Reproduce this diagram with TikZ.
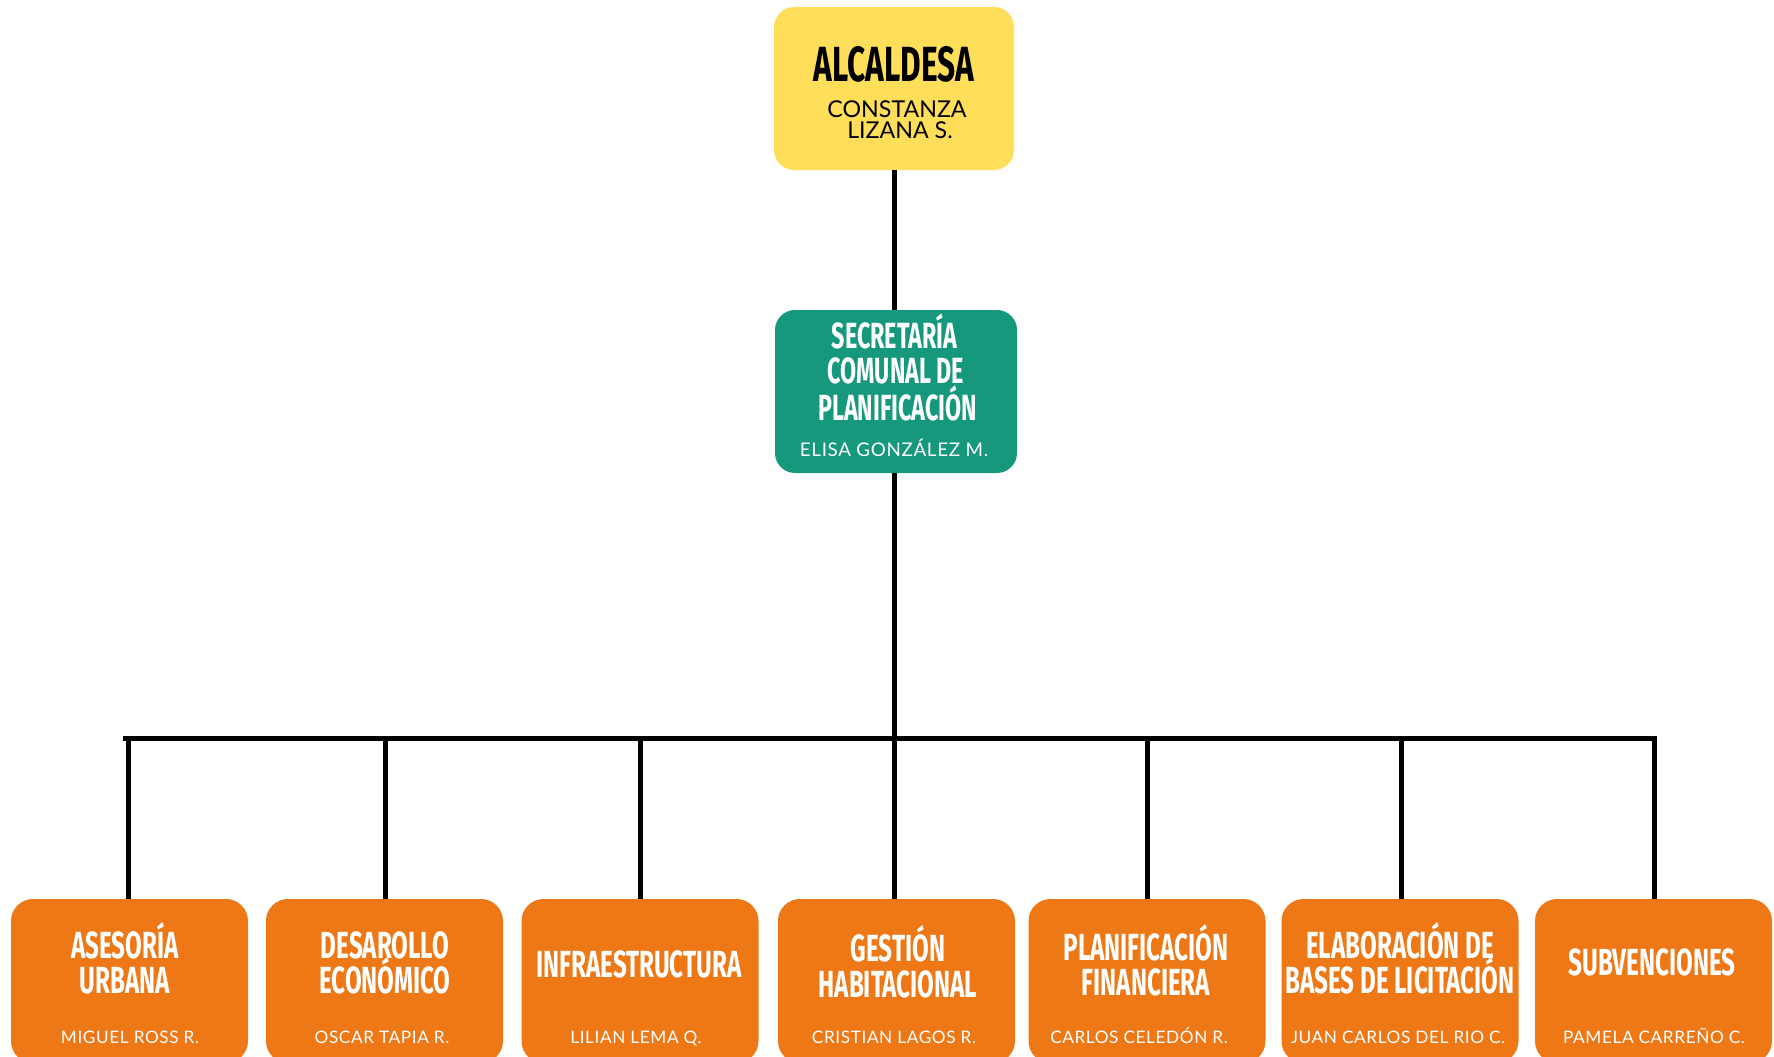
\documentclass[tikz,border=0pt]{standalone}
\usepackage{fontspec}
\newfontfamily\headfont[FakeStretch=0.64]{Fira Sans}
\newfontfamily\namefont[LetterSpace=3.5]{Lato}
\newfontfamily\topnamefont{Lato}
\definecolor{cyellow}{HTML}{FFDE59}
\definecolor{cgreen}{HTML}{16987C}
\definecolor{corange}{HTML}{EE7816}
\tikzset{
  box/.style={rounded corners=11pt, inner sep=0, minimum width=118.5pt},
  head/.style={font=\headfont\bfseries\fontsize{18.9}{18}\selectfont, text=white, inner sep=0, anchor=base},
  shead/.style={font=\headfont\bfseries\fontsize{18.2}{17}\selectfont, text=white, inner sep=0, anchor=base},
  thead/.style={font=\headfont\bfseries\fontsize{24.7}{24}\selectfont, text=black, inner sep=0, anchor=base},
  pname/.style={font=\namefont\fontsize{8.6}{10}\selectfont, text=white, inner sep=0, anchor=base},
  tname/.style={font=\topnamefont\fontsize{11.6}{10}\selectfont, text=black, inner sep=0, anchor=base, text height=8.5pt, text depth=0pt},
  link/.style={line width=2.5pt, black},
}
\begin{document}
\begin{tikzpicture}[x=0.5pt,y=-0.5pt]
\useasboundingbox (0,0) rectangle (1774,1056);
\clip (0,0) rectangle (1774,1056);
% top box
\node[box, fill=cyellow, minimum width=120pt, minimum height=81.5pt, rounded corners=10pt] (top) at (894,88.5) {};
\node[thead] (topt) at (894,81) {ALCALDESA};
\node[tname] (topn1) at (897,117) {CONSTANZA};
\node[tname] (topn2) at (900,138) {LIZANA S.};
% secretaria
\node[box, fill=cgreen, minimum width=121pt, minimum height=81.5pt, rounded corners=10pt] (sec) at (896,391.5) {};
\node[shead] (sect1) at (894.5,348) {SECRETARÍA};
\node[shead] (sect2) at (896,383) {COMUNAL DE};
\node[shead] (sect3) at (897.5,420) {PLANIFICACIÓN};
\node[pname, font=\namefont\fontsize{9.4}{10}\selectfont] (secn) at (894,456) {ELISA GONZÁLEZ M.};
% bottom boxes
\node[box, fill=corange, minimum height=82pt] (b1) at (129.5,981) {};
\node[box, fill=corange, minimum height=82pt] (b2) at (384.5,981) {};
\node[box, fill=corange, minimum height=82pt] (b3) at (640,981) {};
\node[box, fill=corange, minimum height=82pt] (b4) at (896.5,981) {};
\node[box, fill=corange, minimum height=82pt] (b5) at (1147,981) {};
\node[box, fill=corange, minimum height=82pt] (b6) at (1400,981) {};
\node[box, fill=corange, minimum height=82pt] (b7) at (1653.5,981) {};
% titles
\node[head] (b1t1) at (125,958) {ASESORÍA};
\node[head] (b1t2) at (125,993) {URBANA};
\node[head] (b2t1) at (385,958) {DESAROLLO};
\node[head] (b2t2) at (385,993) {ECONÓMICO};
\node[head] (b3t1) at (639,977) {INFRAESTRUCTURA};
\node[head] (b4t1) at (898,961) {GESTIÓN};
\node[head] (b4t2) at (898,997) {HABITACIONAL};
\node[head] (b5t1) at (1146,960) {PLANIFICACIÓN};
\node[head] (b5t2) at (1146,995) {FINANCIERA};
\node[head] (b6t1) at (1400,958) {ELABORACIÓN DE};
\node[head] (b6t2) at (1400,993) {BASES DE LICITACIÓN};
\node[head] (b7t1) at (1652,975) {SUBVENCIONES};
% names
\node[pname] (b1n) at (130,1043) {MIGUEL ROSS R.};
\node[pname] (b2n) at (382,1043) {OSCAR TAPIA R.};
\node[pname] (b3n) at (636,1043) {LILIAN LEMA Q.};
\node[pname] (b4n) at (894,1043) {CRISTIAN LAGOS R.};
\node[pname] (b5n) at (1139,1043) {CARLOS CELEDÓN R.};
\node[pname] (b6n) at (1398,1043) {JUAN CARLOS DEL RIO C.};
\node[pname] (b7n) at (1654,1043) {PAMELA CARREÑO C.};
% connectors
\coordinate (busL) at (123,738);
\coordinate (busR) at (1656,738);
\draw[link] (top.south -| 894,0) -- (894,0 |- sec.north);
\draw[link] (sec.south -| 894,0) -- (894,738);
\draw[link] (busL) -- (busR);
\draw[link] (128,736) -- (128,0 |- b1.north);
\draw[link] (385.5,736) -- (385.5,0 |- b2.north);
\draw[link] (640,736) -- (640,0 |- b3.north);
\draw[link] (894,736) -- (894,0 |- b4.north);
\draw[link] (1147,736) -- (1147,0 |- b5.north);
\draw[link] (1401,736) -- (1401,0 |- b6.north);
\draw[link] (1654,736) -- (1654,0 |- b7.north);
\end{tikzpicture}
\end{document}
